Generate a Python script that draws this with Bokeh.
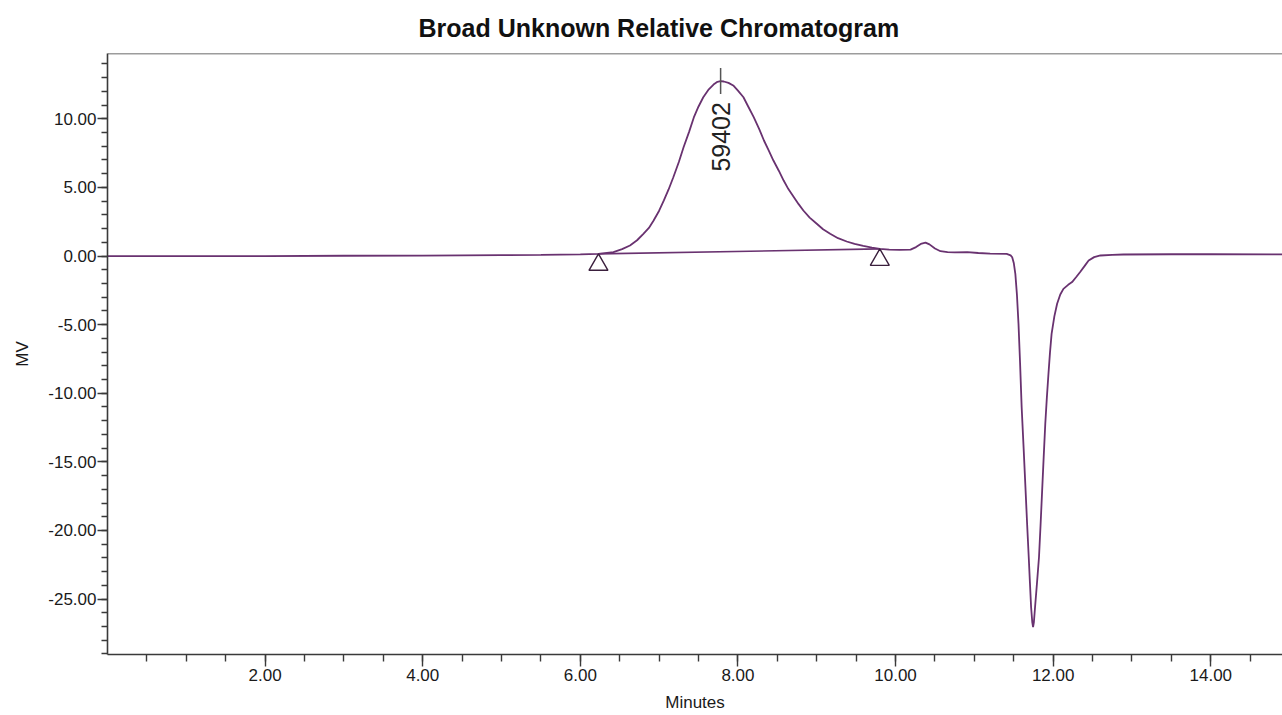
from math import pi

from bokeh.plotting import figure
from bokeh.models import Range1d, FixedTicker, NumeralTickFormatter, Span
from bokeh.core.properties import value
from bokeh.embed import file_html
from bokeh.resources import INLINE

# Detector trace: retention time (minutes) and signal (MV)
minutes = [
    0.00, 1.00, 2.00, 3.00, 4.00, 5.00, 5.50, 6.00, 6.23,
    6.42, 6.53, 6.63, 6.72, 6.80, 6.87, 6.93, 7.00, 7.06, 7.12, 7.18, 7.25,
    7.31, 7.38, 7.44, 7.50, 7.56, 7.63, 7.69, 7.74, 7.78, 7.82, 7.88, 7.94,
    8.00, 8.07, 8.13, 8.20, 8.27, 8.33, 8.39, 8.45, 8.52, 8.58, 8.64, 8.71,
    8.77, 8.83, 8.91, 9.00, 9.08, 9.17, 9.27, 9.38, 9.48, 9.59, 9.70, 9.80,
    9.92, 10.05, 10.19, 10.26, 10.32, 10.38, 10.43, 10.50, 10.57, 10.66,
    10.75, 10.91, 11.05, 11.20, 11.41, 11.46, 11.48, 11.50, 11.52, 11.54,
    11.56, 11.58, 11.60, 11.625, 11.65, 11.67, 11.69, 11.705, 11.72, 11.735,
    11.745, 11.755, 11.77, 11.795, 11.82, 11.84, 11.86, 11.88, 11.90, 11.92,
    11.94, 11.96, 11.98, 12.015, 12.05, 12.09, 12.13, 12.19, 12.24, 12.29,
    12.34, 12.40, 12.45, 12.52, 12.60, 12.75, 12.89, 13.50, 14.00, 14.91,
]
signal_mv = [
    0.00, 0.00, 0.00, 0.02, 0.03, 0.06, 0.08, 0.12, 0.16,
    0.28, 0.50, 0.77, 1.15, 1.62, 2.05, 2.59, 3.30, 4.05, 4.85, 5.74, 6.85,
    7.93, 9.05, 10.10, 10.90, 11.57, 12.15, 12.50, 12.70, 12.75, 12.72, 12.62, 12.43,
    12.05, 11.57, 10.90, 10.12, 9.25, 8.42, 7.70, 6.96, 6.20, 5.50, 4.88, 4.29,
    3.78, 3.32, 2.80, 2.35, 1.95, 1.62, 1.30, 1.06, 0.88, 0.74, 0.62, 0.52,
    0.47, 0.45, 0.47, 0.65, 0.88, 0.98, 0.85, 0.55, 0.35, 0.28,
    0.26, 0.28, 0.22, 0.17, 0.16, 0.05, -0.09, -0.50, -1.30, -2.80,
    -4.94, -7.80, -11.00, -14.00, -17.10, -19.60, -21.95, -23.80, -25.60, -26.70,
    -27.05, -26.70, -25.60, -23.80, -21.95, -19.60, -17.10, -14.60, -12.20, -10.30,
    -8.60, -7.00, -5.67, -4.40, -3.48, -2.80, -2.39, -2.10, -1.90, -1.55,
    -1.18, -0.72, -0.33, -0.08, 0.04, 0.09, 0.11, 0.13, 0.13, 0.12,
]

# Integration baseline of the main peak (start / end points)
baseline_min = [6.23, 9.80]
baseline_mv = [0.16, 0.52]

# Main peak apex and its reported area
apex_min = 7.78
apex_mv = 12.75
apex_area = "59402"

# Axis ticks
x_major = [2, 4, 6, 8, 10, 12, 14]
x_minor = [i * 0.5 for i in range(1, 30)]
y_major = [-25, -20, -15, -10, -5, 0, 5, 10]
y_minor = list(range(-29, 15))

X_MIN, X_MAX = 0.0, 14.91
Y_MIN, Y_MAX = -29.04, 14.76

TRACE = "#693270"
AXIS = "#3a3a3a"
FONT = "Liberation Sans"

p = figure(
    width=1282, height=715,
    output_backend="svg", toolbar_location=None,
    x_range=Range1d(X_MIN, X_MAX), y_range=Range1d(Y_MIN, Y_MAX),
    min_border_left=107, min_border_right=0,
    min_border_top=53, min_border_bottom=61,
    title="Broad Unknown Relative Chromatogram",
)
p.grid.visible = False
p.outline_line_color = None
p.background_fill_color = "white"
p.border_fill_color = "white"

p.title.text_font = FONT
p.title.text_font_size = "25px"
p.title.text_font_style = "bold"
p.title.text_color = "#111111"
p.title.align = "left"
p.title.offset = 311
p.title.standoff = 23

# top frame edge
p.add_layout(Span(location=Y_MAX, dimension="width",
                  line_color=AXIS, line_width=1.5))

for ax in (p.xaxis[0], p.yaxis[0]):
    ax.formatter = NumeralTickFormatter(format="0.00")
    ax.axis_line_color = AXIS
    ax.axis_line_width = 1.6
    ax.major_tick_line_color = AXIS
    ax.minor_tick_line_color = AXIS
    ax.major_tick_line_width = 1.4
    ax.minor_tick_line_width = 1.4
    ax.major_tick_in = 0
    ax.minor_tick_in = 0
    ax.major_label_text_font = FONT
    ax.major_label_text_font_size = "17px"
    ax.major_label_text_color = "#1a1a1a"
    ax.axis_label_text_font = FONT
    ax.axis_label_text_font_size = "17px"
    ax.axis_label_text_font_style = "normal"
    ax.axis_label_text_color = "#1a1a1a"

p.xaxis.ticker = FixedTicker(ticks=x_major, minor_ticks=x_minor)
p.xaxis.major_tick_out = 12
p.xaxis.minor_tick_out = 7
p.xaxis.major_label_standoff = 2
p.xaxis.axis_label = "Minutes"
p.xaxis.axis_label_standoff = 9

p.yaxis.ticker = FixedTicker(ticks=y_major, minor_ticks=y_minor)
p.yaxis.major_tick_out = 10
p.yaxis.minor_tick_out = 6
p.yaxis.major_label_standoff = 1
p.yaxis.axis_label = "MV"
p.yaxis.axis_label_standoff = 13

# chromatogram trace
p.line(minutes, signal_mv, line_color=TRACE, line_width=1.8)

# integration baseline and its end markers (apex of each triangle on the point)
p.line(baseline_min, baseline_mv, line_color=TRACE, line_width=1.6)
p.scatter(baseline_min, [v - 0.8 for v in baseline_mv], marker="triangle",
          size=19, fill_color=None, line_color="#3a1f3d", line_width=1.4)

# apex marker and area label
p.segment(x0=[apex_min], y0=[apex_mv - 0.95], x1=[apex_min], y1=[apex_mv + 0.95],
          line_color="#555555", line_width=1.5)
p.text(x=[apex_min], y=[apex_mv], text=[apex_area], angle=pi / 2,
       text_align="right", text_baseline="middle", y_offset=21,
       text_font=value(FONT), text_font_size="25px", text_color="#222222")

open("out.html", "w").write(file_html(p, INLINE))
